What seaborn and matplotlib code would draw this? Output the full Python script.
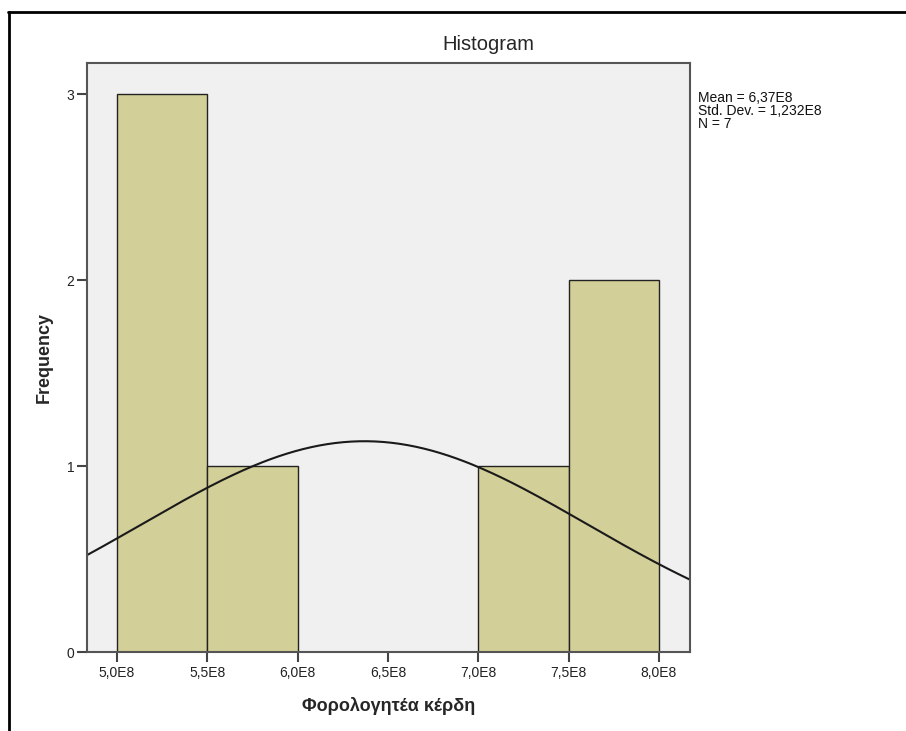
import numpy as np
import pandas as pd
import seaborn as sns
import matplotlib.pyplot as plt
from matplotlib.lines import Line2D

profits = [5.15e8, 5.30e8, 5.40e8, 5.80e8, 7.30e8, 7.80e8, 7.85e8]
bin_edges = [5.0e8, 5.5e8, 6.0e8, 6.5e8, 7.0e8, 7.5e8, 8.0e8]
mean_val = 6.37e8
std_val = 1.232e8
n_obs = 7
x_ticks = [5.0e8, 5.5e8, 6.0e8, 6.5e8, 7.0e8, 7.5e8, 8.0e8]
x_labels = ['5,0E8', '5,5E8', '6,0E8', '6,5E8', '7,0E8', '7,5E8', '8,0E8']
y_ticks = [0, 1, 2, 3]

df = pd.DataFrame({'value': profits})

sns.set_style('white')
plt.rcParams['font.family'] = ['Liberation Sans', 'DejaVu Sans']

fig = plt.figure(figsize=(9.06, 7.31), dpi=100)
ax = fig.add_axes([87 / 906, 1 - 652 / 731, (690 - 87) / 906, (652 - 63) / 731])
ax.set_facecolor('#f0f0f0')

sns.histplot(data=df, x='value', bins=bin_edges, stat='count', ax=ax,
             color='#d3cf98', alpha=1, edgecolor='#222222', linewidth=1.0)

# normal curve scaled to counts
xs = np.linspace(4.834e8, 8.172e8, 300)
bw = bin_edges[1] - bin_edges[0]
ys = n_obs * bw * np.exp(-0.5 * ((xs - mean_val) / std_val) ** 2) / (std_val * np.sqrt(2 * np.pi))
sns.lineplot(x=xs, y=ys, ax=ax, color='#1a1a1a', linewidth=1.5)

ax.set_xlim(4.834e8, 8.172e8)
ax.set_ylim(0, 3.167)
ax.set_xticks(x_ticks)
ax.set_xticklabels(x_labels)
ax.set_yticks(y_ticks)
ax.tick_params(axis='both', direction='out', length=7, width=1.5, color='#444444',
               labelsize=10, labelcolor='#222222', pad=2, bottom=True, left=True)
ax.tick_params(axis='x', pad=3)
for s in ax.spines.values():
    s.set_color('#555555')
    s.set_linewidth(1.5)

ax.set_xlabel('Φορολογητέα κέρδη', fontsize=13, fontweight='bold', labelpad=12)
ax.set_ylabel('Frequency', fontsize=13, fontweight='bold', labelpad=10)
fig.text(488 / 906, 1 - 45 / 731, 'Histogram', ha='center', va='center', fontsize=14.5)

fig.text(698 / 906, 1 - 111 / 731,
         'Mean = 6,37E8\nStd. Dev. = 1,232E8\nN = 7',
         ha='left', va='center', fontsize=10, linespacing=0.95, color='#111111')

# outer frame lines (top and left)
fig.add_artist(Line2D([8 / 906, 1.0], [1 - 12 / 731, 1 - 12 / 731], transform=fig.transFigure,
                      color='black', linewidth=2))
fig.add_artist(Line2D([9 / 906, 9 / 906], [0, 1 - 12 / 731], transform=fig.transFigure,
                      color='black', linewidth=2))

fig.savefig('out.png', dpi=100)
